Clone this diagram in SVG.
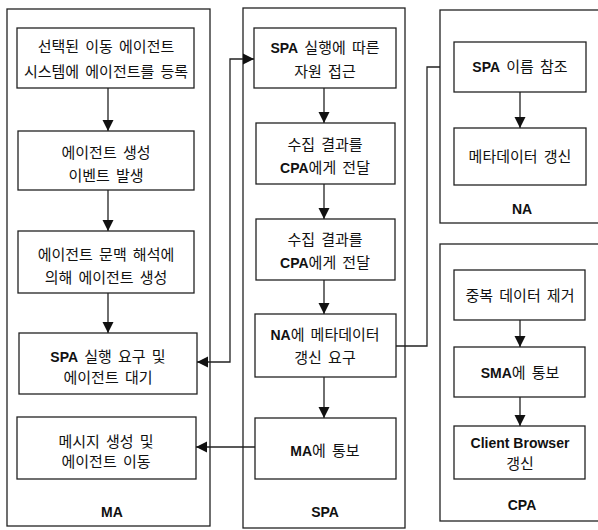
<svg xmlns="http://www.w3.org/2000/svg" width="598" height="530" viewBox="0 0 598 530">
<style>
.frame{fill:#fff;stroke:#222;stroke-width:1.3}
.box{fill:#fff;stroke:#222;stroke-width:1.3}
.t{font-family:"Liberation Sans","Noto Sans CJK KR",sans-serif;font-size:15px;fill:#111;text-anchor:middle;word-spacing:2px}
.b{font-weight:bold;font-size:14px;word-spacing:0}
.lbl{font-family:"Liberation Sans","Noto Sans CJK KR",sans-serif;font-size:14px;font-weight:bold;fill:#111;text-anchor:middle}
.c{fill:none;stroke:#222;stroke-width:1.3}
</style>
<defs>
<marker id="ah" viewBox="0 0 12 12" markerWidth="11" markerHeight="12" refX="12" refY="6" orient="auto-start-reverse" markerUnits="userSpaceOnUse">
<path d="M0,0 L12,6 L0,12 z" fill="#111"/>
</marker>
</defs>

<g id="MA">
<rect class="frame" x="7" y="9" width="203" height="517"/>
<text class="lbl" x="112" y="517">MA</text>
</g>
<g id="SPA">
<rect class="frame" x="243" y="8" width="162" height="520"/>
<text class="lbl" x="325" y="517">SPA</text>
</g>
<g id="NA">
<rect class="frame" x="440" y="10" width="175" height="213"/>
<text class="lbl" x="522" y="214">NA</text>
</g>
<g id="CPA">
<rect class="frame" x="440" y="244" width="175" height="277"/>
<text class="lbl" x="522" y="510">CPA</text>
</g>

<g id="ma1"><rect class="box" x="17" y="28" width="177" height="60"/>
<text class="t" x="106" y="52">선택된 이동 에이전트</text>
<text class="t" x="106" y="77">시스템에 에이전트를 등록</text></g>
<g id="ma2"><rect class="box" x="18" y="131" width="176" height="59"/>
<text class="t" x="106" y="158">에이전트 생성</text>
<text class="t" x="106" y="181">이벤트 발생</text></g>
<g id="ma3"><rect class="box" x="18" y="231" width="176" height="62"/>
<text class="t" x="106" y="260">에이전트 문맥 해석에</text>
<text class="t" x="106" y="283">의해 에이전트 생성</text></g>
<g id="ma4"><rect class="box" x="19" y="333" width="178" height="61"/>
<text class="t" x="108" y="362"><tspan class="b">SPA</tspan> 실행 요구 및</text>
<text class="t" x="108" y="383">에이전트 대기</text></g>
<g id="ma5"><rect class="box" x="17" y="417" width="179" height="62"/>
<text class="t" x="106" y="447">메시지 생성 및</text>
<text class="t" x="106" y="467">에이전트 이동</text></g>

<g id="spa1"><rect class="box" x="254" y="28" width="142" height="60"/>
<text class="t" x="325" y="53"><tspan class="b">SPA</tspan> 실행에 따른</text>
<text class="t" x="325" y="77">자원 접근</text></g>
<g id="spa2"><rect class="box" x="256" y="123" width="139" height="61"/>
<text class="t" x="325" y="150">수집 결과를</text>
<text class="t" x="325" y="173"><tspan class="b">CPA</tspan>에게 전달</text></g>
<g id="spa3"><rect class="box" x="256" y="219" width="139" height="61"/>
<text class="t" x="325" y="245">수집 결과를</text>
<text class="t" x="325" y="268"><tspan class="b">CPA</tspan>에게 전달</text></g>
<g id="spa4"><rect class="box" x="255" y="314" width="141" height="63"/>
<text class="t" x="325" y="340"><tspan class="b">NA</tspan>에 메타데이터</text>
<text class="t" x="325" y="363">갱신 요구</text></g>
<g id="spa5"><rect class="box" x="255" y="418" width="141" height="61"/>
<text class="t" x="325" y="456"><tspan class="b">MA</tspan>에 통보</text></g>

<g id="na1"><rect class="box" x="454" y="42" width="132" height="50"/>
<text class="t" x="520" y="72"><tspan class="b">SPA</tspan> 이름 참조</text></g>
<g id="na2"><rect class="box" x="454" y="128" width="132" height="57"/>
<text class="t" x="520" y="162">메타데이터 갱신</text></g>

<g id="cpa1"><rect class="box" x="454" y="270" width="131" height="50"/>
<text class="t" x="520" y="301">중복 데이터 제거</text></g>
<g id="cpa2"><rect class="box" x="454" y="347" width="131" height="50"/>
<text class="t" x="520" y="378"><tspan class="b">SMA</tspan>에 통보</text></g>
<g id="cpa3"><rect class="box" x="454" y="426" width="131" height="53"/>
<text class="t" x="520" y="448"><tspan class="b">Client Browser</tspan></text>
<text class="t" x="520" y="469">갱신</text></g>

<g id="connectors">
<path class="c" d="M108,88 V131" marker-end="url(#ah)"/>
<path class="c" d="M108,190 V231" marker-end="url(#ah)"/>
<path class="c" d="M108,293 V333" marker-end="url(#ah)"/>
<path class="c" d="M324,88 V123" marker-end="url(#ah)"/>
<path class="c" d="M324,184 V219" marker-end="url(#ah)"/>
<path class="c" d="M324,280 V314" marker-end="url(#ah)"/>
<path class="c" d="M324,377 V418" marker-end="url(#ah)"/>
<path class="c" d="M520,92 V128" marker-end="url(#ah)"/>
<path class="c" d="M520,320 V347" marker-end="url(#ah)"/>
<path class="c" d="M520,397 V426" marker-end="url(#ah)"/>
<path class="c" d="M197,362 H230 V59 H254" marker-start="url(#ah)" marker-end="url(#ah)"/>
<path class="c" d="M255,447 H196" marker-end="url(#ah)"/>
<path class="c" d="M396,346 H427 V67 H440"/>
</g>
</svg>
